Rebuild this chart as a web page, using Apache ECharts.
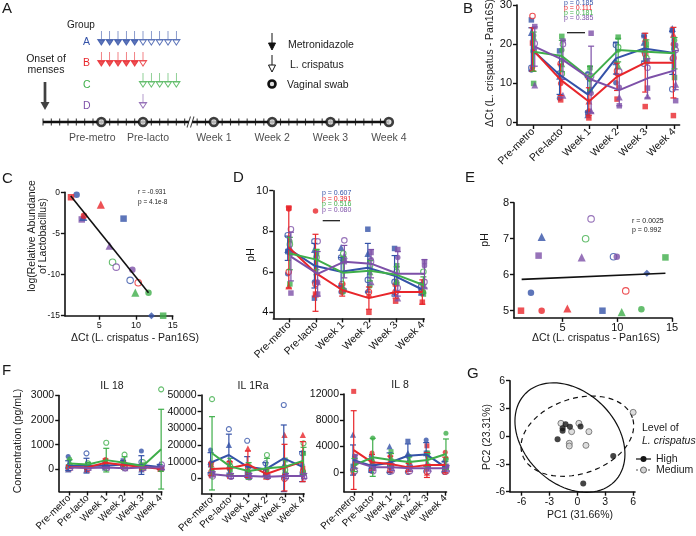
<!DOCTYPE html>
<html>
<head>
<meta charset="utf-8">
<script src="https://cdn.jsdelivr.net/npm/echarts@6/dist/echarts.min.js"></script>
<style>
html,body{margin:0;padding:0;background:#fff}
#chart{width:696px;height:536px}
</style>
</head>
<body>
<div id="chart"></div>
<script>
var FONT = 'Liberation Sans, Arial, sans-serif';
var COLORS = ['#3452a8', '#e8262b', '#3fae4a', '#7d50a8'];
var SYMBOLS = ['rect', 'circle', 'triangle', 'circle', 'diamond'];
var timeLabels = ['Pre-metro', 'Pre-lacto', 'Week 1', 'Week 2', 'Week 3', 'Week 4'];

// A: study schedule (days from onset of menses)
var visitDays = [7, 12, 20.5, 27.5, 34.5, 41.5];
var dayTicks = [0,1,2,3,4,5,6,7,8,9,10,11,12,13,14,15,16,17,
  18.5,19.5,20.5,21.5,22.5,23.5,24.5,25.5,26.5,27.5,28.5,29.5,30.5,31.5,32.5,33.5,34.5,35.5,36.5,37.5,38.5,39.5,40.5,41.5];
var timelineSegs = [[0, 17.5], [17.9, 41.5]];
var breakDay = 17.7;
var groupNames = ['A', 'B', 'C', 'D'];
var groupRows = [4, 3, 2, 1];
var metroDays = [[7,8,9,10,11], [7,8,9,10,11], [], []];
var lactoDays = [[12,13,14,15,16], [12], [12,13,14,15,16], [12]];

// B: dCt over time (groups A..D), points: square, circle, triangle, open circle
var bMean = [[18.7,12.2,7.2,16.4,18.9,17.8],[18.7,10.9,5.4,11.7,15.3,15.3],[18.1,17.0,11.3,18.5,18.1,17.7],[19.4,16.0,11.0,8.3,11.3,13.4]];
var bSd = [[5.5,5.0,4.5,4.0,3.2,5.5],[5.5,4.0,3.5,3.5,7.5,9.0],[5.0,4.0,3.0,3.0,3.0,4.0],[5.0,5.0,8.5,4.0,5.0,5.0]];
var bPts = [
  [[26.2,18.3,2.5,20.0,22.2,23.5],[13.4,6.2,12.5,10.2,18.0,16.3],[23.0,11.8,2.0,15.5,20.5,24.0],[14.0,12.5,12.0,19.8,15.0,8.5]],
  [[20.3,5.8,1.2,6.0,4.1,1.8],[14.1,10.0,3.0,12.5,18.0,20.0],[13.8,12.5,5.5,13.0,21.5,22.5],[27.2,15.0,11.5,13.2,17.5,16.5]],
  [[10.0,22.0,14.0,21.8,20.0,11.5],[22.2,18.5,11.0,18.5,19.0,21.0],[21.8,15.0,8.5,14.5,17.0,19.5],[18.2,12.5,11.5,19.2,16.5,18.8]],
  [[24.5,20.8,22.8,4.3,8.8,5.6],[19.0,16.0,7.5,9.0,15.5,19.8],[9.6,7.0,3.0,6.5,6.8,9.8],[20.2,20.0,11.8,13.0,14.0,18.5]]
];
var bP = ['p = 0.185', 'p = 0.111', 'p = 0.181', 'p = 0.385'];

// C: log relative abundance vs dCt
var cX = [1.9,1.13,2.6,2.8,2.9,5.2,8.3,6.4,6.8,7.3,9.5,9.2,10.3,9.9,11.7,12.1,13.7];
var cY = [-0.3,-0.6,-3.3,-3.0,-2.85,-1.5,-3.2,-6.5,-8.5,-9.1,-9.4,-10.7,-11.0,-12.2,-12.2,-15,-15];
var cGroup = [0,1,3,0,1,1,0,3,2,3,3,0,1,2,2,0,2];
var cShape = [1,0,0,2,1,2,0,2,3,3,1,3,3,2,1,4,0];
var cFitX = [1.1, 11.7];
var cFitY = [-0.45, -12.2];

// D: pH over time
var dMean = [[7.16,6.3,6.0,6.2,5.8,5.15],[7.2,5.95,5.1,4.7,5.0,5.0],[6.9,6.6,5.95,6.05,5.85,5.35],[6.75,5.9,6.5,6.4,5.9,5.9]];
var dSd = [[0.6,1.1,0.7,1.2,1.0,0.3],[2.0,1.9,0.3,0.55,0.3,0.6],[0.8,0.5,0.8,0.5,0.4,0.4],[1.2,1.1,0.8,0.7,1.1,0.7]];
var dPts = [
  [[7.0,4.7,5.3,8.1,7.15,5.0],[5.9,5.5,5.0,5.0,5.5,5.1],[7.1,7.1,7.2,6.9,5.0,5.3],[7.8,7.5,6.7,5.6,5.5,5.3]],
  [[9.15,4.9,5.1,4.0,4.55,4.5],[9.1,9.0,5.0,5.0,5.0,5.0],[5.3,4.9,5.2,4.9,5.5,5.5],[6.0,5.4,5.4,5.0,5.0,5.0]],
  [[5.4,7.0,6.55,6.5,6.3,4.9],[7.5,6.8,5.0,5.3,5.5,5.0],[7.0,6.0,5.2,6.0,5.5,5.5],[7.35,6.7,6.9,6.3,6.0,6.0]],
  [[4.95,4.9,6.5,6.95,7.1,6.5],[6.9,5.5,5.1,6.6,6.7,6.3],[7.1,5.5,6.8,5.5,4.7,5.3],[8.1,7.5,7.55,6.5,5.2,5.5]]
];
var dP = ['p = 0.607', 'p = 0.391', 'p = 0.516', 'p = 0.080'];

// E: pH vs dCt
var eX = [1.19,3.08,5.43,10.77,2.1,3.08,8.64,9.65,12.7,2.8,6.74,7.6,9.95,7.1,10.4,12.2,14.4];
var eY = [5.0,5.0,5.06,5.55,5.5,7.05,5.0,6.5,6.04,6.53,6.48,7.55,6.5,7.0,4.96,5.04,6.48];
var eGroup = [1,1,1,1,0,0,0,0,0,3,3,3,3,2,2,2,2];
var eShape = [0,1,2,3,1,2,0,3,4,0,2,3,1,3,2,1,0];
var eFitX = [1.25, 14.4];
var eFitY = [5.87, 6.04];

// F: cytokines (pg/mL)
var il18Mean = [[150,150,150,200,175,100],[100,80,270,175,100,20],[240,200,375,270,135,820],[70,55,70,40,70,70]];
var il18Sd = [[200,300,100,150,380,100],[50,60,150,100,80,30],[150,80,480,240,120,1620],[30,20,40,20,30,70]];
var il18Pts = [
  [[100,50,50,350,50,100],[520,50,100,150,750,50],[0,0,250,200,0,200],[50,650,200,100,300,50]],
  [[100,50,300,200,100,0],[150,100,400,300,200,50],[50,0,300,100,50,20],[100,150,100,100,50,10]],
  [[100,100,50,50,50,0],[420,250,100,200,100,20],[300,200,200,200,100,20],[150,250,1080,600,300,3250]],
  [[50,50,100,50,50,50],[100,50,50,20,100,100],[80,70,80,50,80,80],[50,50,50,40,50,200]]
];
var il1raMean = [[9400,14000,7000,5400,12000,7000],[5600,6000,8400,2600,6400,10000],[15000,7000,4400,6000,7000,10600],[2400,1400,1400,1000,1400,1400]];
var il1raSd = [[6000,12500,6000,4000,20000,9000],[4000,4000,8000,3000,14000,12000],[22000,5000,5000,6000,4000,8000],[1500,1500,1500,1000,1500,1500]];
var il1raPts = [
  [[8000,2000,3000,4000,500,2500],[17000,6000,1000,2500,500,8000],[10000,20000,2000,6000,8000,3000],[2500,29500,22500,9000,44000,15000]],
  [[1500,1000,3000,1000,1000,6000],[9000,5500,6000,2000,2000,5000],[8500,8000,18000,3500,26000,26000],[4000,9500,6500,4000,-500,4000]],
  [[5000,5000,3000,2000,11000,15000],[4000,7000,4000,5000,7000,4000],[3000,9000,3000,3000,5000,3000],[47500,7000,7500,14000,5000,21000]],
  [[3000,1500,2000,1000,1500,1500],[2000,500,1000,800,1000,1000],[3500,2500,2000,1500,2500,2500],[1000,1000,500,700,500,500]]
];
var il8Mean = [[1930,1070,1520,2590,2790,915],[3450,1575,1320,810,1170,1170],[1170,2340,1930,1625,1930,2840],[1680,810,810,660,660,660]];
var il8Sd = [[2300,1000,1500,1800,1800,800],[6000,1200,1200,600,1900,1200],[1000,2900,1000,800,1000,2300],[1000,400,500,400,400,400]];
var il8Pts = [
  [[1000,500,1000,4800,3000,500],[500,2500,1000,2500,5000,1000],[5800,1000,4000,3000,3000,2000],[400,300,100,100,200,100]],
  [[12400,1500,1500,500,4100,1000],[500,3000,2500,1500,500,3100],[500,1500,1000,1000,0,500],[0,300,300,200,100,100]],
  [[500,1000,3200,1000,3000,2000],[2500,5300,2000,2500,2500,6000],[1500,2000,1500,2000,1500,2500],[200,1000,1000,1000,700,800]],
  [[2500,1000,1000,1000,1000,1000],[2000,1000,1200,800,800,800],[2000,1000,800,600,600,600],[200,200,200,200,200,200]]
];

// G: PCA
var gHighX = [-1.27,-1.59,-1.59,-0.8,0.34,-2.13,3.86,0.63];
var gHighY = [1.28,0.85,0.6,1.03,1.06,-0.34,-2.14,-5.1];
var gMedX = [-1.77,0.16,-0.62,1.24,-0.87,-0.87,0.92,6.0];
var gMedY = [1.39,1.39,0.49,0.49,-0.77,-1.06,-0.99,2.58];
var ellCenter = [[-0.8, -0.15], [0, 0]];
var ellAxes = [[6.75, 4.95], [6.25, 4.06]];
var ellAngle = [-45, 18.7];

var chart = echarts.init(document.getElementById('chart'));

// grids: A, B, C, D, E, F-IL18, F-IL1Ra, F-IL8, G
var grids = [
  {left: 43, top: 6.5, width: 350, height: 136.5},
  {left: 517, top: 5, width: 162.6, height: 120},
  {left: 64.9, top: 192.3, width: 107.8, height: 123.4},
  {left: 273.3, top: 190.7, width: 150.9, height: 127.7},
  {left: 514, top: 202.7, width: 158, height: 115.2},
  {left: 59.2, top: 395.5, width: 102.5, height: 96},
  {left: 201.6, top: 395, width: 102.5, height: 98.3},
  {left: 344, top: 394, width: 102.5, height: 97.7},
  {left: 510, top: 380.7, width: 125, height: 111}
];
grids.forEach(function(g) { g.containLabel = false; g.outerBoundsMode = 'none'; });

function plainNum(v) { return String(v); }
function axis(gi, min, max, ticks, fs, extra) {
  var a = {
    type: 'value', gridIndex: gi, min: min, max: max,
    axisLine: {show: true, onZero: false, lineStyle: {color: '#111', width: 1.6}},
    axisTick: {show: true, length: 4, customValues: ticks, lineStyle: {color: '#111', width: 1.4}},
    axisLabel: {customValues: ticks, fontSize: fs, color: '#111', fontFamily: FONT, margin: 5, formatter: plainNum},
    splitLine: {show: false}
  };
  if (extra) {
    for (var k in extra) a.axisLabel[k] = extra[k];
  }
  return a;
}
var catTicks = [0, 1, 2, 3, 4, 5];
function catFmt(v) { return timeLabels[Math.round(v)]; }

var xAxes = [
  {type: 'value', gridIndex: 0, min: 0, max: 42, show: false},
  axis(1, -0.57, 5.2, catTicks, 10.5, {formatter: catFmt, rotate: 45}),
  axis(2, 0.3, 15, [5, 10, 15], 9),
  axis(3, -0.6, 5.05, catTicks, 10.5, {formatter: catFmt, rotate: 45}),
  axis(4, 0.55, 15, [5, 10, 15], 11),
  axis(5, -0.55, 5.05, catTicks, 10, {formatter: catFmt, rotate: 45}),
  axis(6, -0.55, 5.05, catTicks, 10, {formatter: catFmt, rotate: 45}),
  axis(7, -0.55, 5.05, catTicks, 10, {formatter: catFmt, rotate: 45}),
  axis(8, -7.25, 6.2, [-6, -3, 0, 3, 6], 10.5)
];
var yAxes = [
  {type: 'value', gridIndex: 0, min: -1, max: 5.5, show: false},
  axis(1, -0.6, 30, [0, 10, 20, 30], 11),
  axis(2, -15, 0, [0, -5, -10, -15], 8.5),
  axis(3, 3.7, 10, [4, 6, 8, 10], 11),
  axis(4, 4.8, 8, [5, 6, 7, 8], 11),
  axis(5, -900, 3000, [0, 1000, 2000, 3000], 10.5),
  axis(6, -9000, 50000, [0, 10000, 20000, 30000, 40000, 50000], 10.5),
  axis(7, -2900, 12000, [0, 4000, 8000, 12000], 10.5),
  axis(8, -6, 6, [-6, -3, 0, 3, 6], 10.5)
];

var series = [];

// ---- panel A schematic
timelineSegs.forEach(function(s) {
  series.push({type: 'line', xAxisIndex: 0, yAxisIndex: 0, data: [[s[0], 0], [s[1], 0]],
    symbol: 'none', lineStyle: {color: '#111', width: 2.4}, z: 2});
});
series.push({type: 'scatter', xAxisIndex: 0, yAxisIndex: 0, z: 3,
  data: dayTicks.map(function(d) { return [d, 0]; }),
  symbol: 'rect', symbolSize: [1.1, 7], itemStyle: {color: '#111'}});
series.push({type: 'scatter', xAxisIndex: 0, yAxisIndex: 0, z: 4, data: [[breakDay, 0]],
  symbol: 'path://M0,12L4,0M4,12L8,0', symbolSize: [7, 11],
  itemStyle: {color: 'rgba(0,0,0,0)', borderColor: '#111', borderWidth: 1.3}});
var visitLabelOffset = [[-9, 0], [5, 0], [0, 0], [0, 0], [0, 0], [0, 0]];
series.push({type: 'scatter', xAxisIndex: 0, yAxisIndex: 0, z: 5,
  data: visitDays.map(function(d, i) {
    return {name: timeLabels[i], value: [d, 0], label: {offset: visitLabelOffset[i]}};
  }),
  symbol: 'circle', symbolSize: 8,
  itemStyle: {color: '#ddd', borderColor: '#111', borderWidth: 2.6},
  label: {show: true, position: 'bottom', distance: 5, formatter: '{b}', fontSize: 10.5, color: '#1a1a1a', fontFamily: FONT}});
series.push({type: 'scatter', xAxisIndex: 0, yAxisIndex: 0, z: 5, data: [[0, 0]],
  symbol: 'path://M3.5,0L6.5,0L6.5,20L10,20L5,28L0,20L3.5,20Z', symbolSize: [9, 28], symbolOffset: [2, -26],
  itemStyle: {color: '#111'}});
var ARROW = 'path://M5,0L5,10M1.5,10L8.5,10L5,16Z';
for (var g = 0; g < 4; g++) {
  series.push({type: 'scatter', xAxisIndex: 0, yAxisIndex: 0, z: 5,
    data: metroDays[g].map(function(d) { return [d, groupRows[g]]; }),
    symbol: ARROW, symbolSize: [7, 14],
    itemStyle: {color: COLORS[g], borderColor: COLORS[g], borderWidth: 1}});
  series.push({type: 'scatter', xAxisIndex: 0, yAxisIndex: 0, z: 5,
    data: lactoDays[g].map(function(d) { return [d, groupRows[g]]; }),
    symbol: ARROW, symbolSize: [7, 14],
    itemStyle: {color: '#fff', borderColor: COLORS[g], borderWidth: 1}});
}

// ---- helpers for marks
function ptItem(x, y, g, s, size) {
  var c = COLORS[g];
  var item = {value: [x, y], symbol: SYMBOLS[s], symbolSize: s === 2 ? size * 1.25 : (s === 4 ? size * 1.1 : size)};
  if (s === 3) item.itemStyle = {color: '#fff', borderColor: c, borderWidth: 1.1};
  else item.itemStyle = {color: c};
  return item;
}
function errSeries(ax, g, mean, sd, off) {
  return {
    type: 'custom', xAxisIndex: ax, yAxisIndex: ax, z: 3,
    data: mean.map(function(m, i) { return [i + off, m - sd[i], m + sd[i]]; }),
    encode: {x: 0, y: [1, 2]},
    renderItem: function(params, api) {
      var lo = api.coord([api.value(0), api.value(1)]);
      var hi = api.coord([api.value(0), api.value(2)]);
      var st = {stroke: COLORS[g], lineWidth: 1.2};
      return {type: 'group', children: [
        {type: 'line', shape: {x1: lo[0], y1: lo[1], x2: hi[0], y2: hi[1]}, style: st},
        {type: 'line', shape: {x1: lo[0] - 3, y1: lo[1], x2: lo[0] + 3, y2: lo[1]}, style: st},
        {type: 'line', shape: {x1: hi[0] - 3, y1: hi[1], x2: hi[0] + 3, y2: hi[1]}, style: st}
      ]};
    }
  };
}
var OFFS = [-0.06, -0.02, 0.02, 0.06];
function addTimePanel(ax, mean, sd, pts, size) {
  for (var g = 0; g < 4; g++) {
    var data = [];
    for (var s = 0; s < 4; s++) {
      for (var i = 0; i < 6; i++) data.push(ptItem(i + OFFS[g], pts[g][s][i], g, s, size));
    }
    series.push({type: 'scatter', xAxisIndex: ax, yAxisIndex: ax, data: data, clip: false, z: 2});
    series.push(errSeries(ax, g, mean[g], sd[g], OFFS[g]));
    series.push({type: 'line', xAxisIndex: ax, yAxisIndex: ax, z: 4, clip: false,
      data: mean[g].map(function(m, i) { return [i + OFFS[g], m]; }),
      symbol: 'none', lineStyle: {color: COLORS[g], width: 2}});
  }
}
function addXYPanel(ax, xs, ys, grp, shp, fitX, fitY) {
  var data = xs.map(function(x, i) { return ptItem(x, ys[i], grp[i], shp[i], 6.5); });
  series.push({type: 'scatter', xAxisIndex: ax, yAxisIndex: ax, data: data, clip: false, z: 3});
  series.push({type: 'line', xAxisIndex: ax, yAxisIndex: ax, z: 4,
    data: [[fitX[0], fitY[0]], [fitX[1], fitY[1]]], symbol: 'none', lineStyle: {color: '#111', width: 1.6}});
}

addTimePanel(1, bMean, bSd, bPts, 5.5);
addXYPanel(2, cX, cY, cGroup, cShape, cFitX, cFitY);
addTimePanel(3, dMean, dSd, dPts, 5.5);
addXYPanel(4, eX, eY, eGroup, eShape, eFitX, eFitY);
addTimePanel(5, il18Mean, il18Sd, il18Pts, 5);
addTimePanel(6, il1raMean, il1raSd, il1raPts, 5);
addTimePanel(7, il8Mean, il8Sd, il8Pts, 5);

// ---- panel G
series.push({type: 'scatter', xAxisIndex: 8, yAxisIndex: 8, z: 4, clip: false,
  data: gMedX.map(function(x, i) { return [x, gMedY[i]]; }),
  symbol: 'circle', symbolSize: 6, itemStyle: {color: '#d4d4d4', borderColor: '#666', borderWidth: 1}});
series.push({type: 'scatter', xAxisIndex: 8, yAxisIndex: 8, z: 5, clip: false,
  data: gHighX.map(function(x, i) { return [x, gHighY[i]]; }),
  symbol: 'circle', symbolSize: 6, itemStyle: {color: '#151515'}});
[0, 1].forEach(function(k) {
  series.push({type: 'custom', xAxisIndex: 8, yAxisIndex: 8, z: 3,
    data: [ellCenter[k]], encode: {x: 0, y: 1},
    renderItem: function(params, api) {
      var cx = api.value(0), cy = api.value(1);
      var a = ellAxes[k][0], b = ellAxes[k][1], th = ellAngle[k] * Math.PI / 180;
      var pts = [];
      for (var j = 0; j <= 90; j++) {
        var t = j / 90 * 2 * Math.PI;
        pts.push(api.coord([cx + a * Math.cos(t) * Math.cos(th) - b * Math.sin(t) * Math.sin(th),
                            cy + a * Math.cos(t) * Math.sin(th) + b * Math.sin(t) * Math.cos(th)]));
      }
      return {type: 'polyline', shape: {points: pts},
        style: {stroke: '#111', lineWidth: 1.2, fill: 'none', lineDash: k === 1 ? [5, 4] : null}};
    }});
});

// ---- text
function txt(x, y, s, o) {
  o = o || {};
  return {type: 'text', x: x, y: y, rotation: o.rot || 0, z: 10,
    style: {text: s, fill: o.color || '#1a1a1a', fontSize: o.fs || 10.5, fontFamily: FONT,
      fontStyle: o.italic ? 'italic' : 'normal', align: o.align || 'left', verticalAlign: 'middle',
      lineHeight: o.lh || null}};
}
var R = Math.PI / 2;
var graphics = [
  txt(2, 9, 'A', {fs: 15}), txt(463, 9, 'B', {fs: 15}), txt(2, 179, 'C', {fs: 15}),
  txt(233, 178, 'D', {fs: 15}), txt(465, 178, 'E', {fs: 15}), txt(2, 371, 'F', {fs: 15}),
  txt(467, 374, 'G', {fs: 15}),
  txt(67, 25, 'Group', {fs: 10}),
  txt(46, 59, 'Onset of', {align: 'center'}), txt(46, 70, 'menses', {align: 'center'}),
  txt(288, 45, 'Metronidazole'), txt(290, 65, 'L. crispatus'), txt(287, 85, 'Vaginal swab'),
  {type: 'line', shape: {x1: 272, y1: 33, x2: 272, y2: 44}, style: {stroke: '#111', lineWidth: 1}},
  {type: 'polygon', shape: {points: [[268.5, 43], [275.5, 43], [272, 50]]}, style: {fill: '#111', stroke: '#111', lineWidth: 1}},
  {type: 'line', shape: {x1: 272, y1: 55, x2: 272, y2: 65}, style: {stroke: '#111', lineWidth: 1}},
  {type: 'polygon', shape: {points: [[268.5, 65], [275.5, 65], [272, 72]]}, style: {fill: '#fff', stroke: '#111', lineWidth: 1}},
  {type: 'circle', shape: {cx: 272, cy: 84, r: 3.5}, style: {fill: '#ddd', stroke: '#111', lineWidth: 2.6}},
  txt(490, 63, '\u0394Ct (L. crispatus - Pan16S)', {rot: R, align: 'center'}),
  txt(38, 236, 'log(Relative Abundance\nof Lactobacillus)', {rot: R, align: 'center', lh: 11}),
  txt(135, 338, '\u0394Ct (L. crispatus - Pan16S)', {align: 'center'}),
  txt(138, 192, 'r = -0.931', {fs: 6.5}), txt(138, 202, 'p = 4.1e-8', {fs: 6.5}),
  txt(251, 255, 'pH', {rot: R, align: 'center'}),
  txt(485, 240, 'pH', {rot: R, align: 'center'}),
  txt(596, 338, '\u0394Ct (L. crispatus - Pan16S)', {align: 'center'}),
  txt(632, 221, 'r = 0.0025', {fs: 7}), txt(632, 230, 'p = 0.992', {fs: 7}),
  txt(18, 441, 'Concentration (pg/mL)', {rot: R, align: 'center'}),
  txt(112, 386, 'IL 18', {align: 'center'}), txt(253, 386, 'IL 1Ra', {align: 'center'}),
  txt(400, 385, 'IL 8', {align: 'center'}),
  txt(487, 437, 'PC2 (23.31%)', {rot: R, align: 'center'}),
  txt(580, 515, 'PC1 (31.66%)', {align: 'center'}),
  txt(642, 428, 'Level of'), txt(642, 441, 'L. crispatus', {italic: true}),
  {type: 'line', shape: {x1: 636, y1: 459, x2: 651, y2: 459}, style: {stroke: '#111', lineWidth: 1.2}},
  {type: 'circle', shape: {cx: 643.5, cy: 459, r: 3}, style: {fill: '#151515'}},
  txt(656, 459, 'High'),
  {type: 'line', shape: {x1: 636, y1: 470, x2: 651, y2: 470}, style: {stroke: '#555', lineWidth: 1.2, lineDash: [2, 2]}},
  {type: 'circle', shape: {cx: 643.5, cy: 470, r: 3}, style: {fill: '#d4d4d4', stroke: '#666', lineWidth: 1}},
  txt(656, 470, 'Medium'),
  {type: 'line', shape: {x1: 567, y1: 32.7, x2: 585, y2: 32.7}, style: {stroke: '#111', lineWidth: 1.2}},
  {type: 'line', shape: {x1: 322.7, y1: 220.7, x2: 340, y2: 220.7}, style: {stroke: '#111', lineWidth: 1.2}}
];
for (var i = 0; i < 4; i++) {
  graphics.push(txt(83, [42, 63, 85, 106][i], groupNames[i], {color: COLORS[i]}));
  graphics.push(txt(564, 3 + i * 4.9, bP[i], {fs: 7, color: COLORS[i]}));
  graphics.push(txt(322, 193.3 + i * 5.6, dP[i], {fs: 7, color: COLORS[i]}));
}

chart.setOption({
  animation: false,
  backgroundColor: '#fff',
  textStyle: {fontFamily: FONT},
  grid: grids,
  xAxis: xAxes,
  yAxis: yAxes,
  series: series,
  graphic: graphics
});
</script>
</body>
</html>
